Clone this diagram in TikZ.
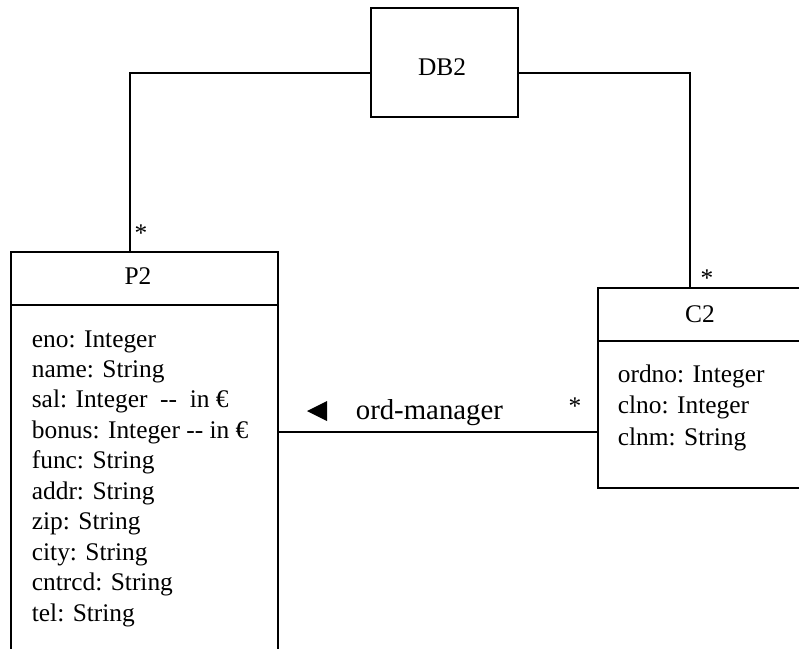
\documentclass[tikz,border=0pt]{standalone}
\usepackage{fontspec}
\setmainfont{Liberation Serif}
\begin{document}
\begin{tikzpicture}[x=1pt,y=-1pt,line width=1.7pt,
  box/.style={draw,rectangle,inner sep=0pt,anchor=north west},
  txt/.style={font=\fontsize{25.4}{30}\selectfont,inner sep=0pt,anchor=base west},
  ttl/.style={font=\fontsize{25.4}{30}\selectfont,inner sep=0pt,anchor=base},
  star/.style={font=\fontsize{25.4}{30}\selectfont,inner sep=0pt,anchor=base},
  assoc/.style={font=\fontsize{28.8}{34}\selectfont,inner sep=0pt,anchor=base west}]
\useasboundingbox (0,0) rectangle (799,648);
\clip (0,0) rectangle (799,648);
% DB2
\node[box,minimum width=147pt,minimum height=109pt] (db2) at (370,7) {};
\node[ttl] (db2t) at (442,75) {DB2};
% P2
\node[box,minimum width=267pt,minimum height=440pt] (p2) at (10,251) {};
\draw (10,305) -- (277,305);
\node[ttl] (p2t) at (138,284) {P2};
\foreach \t [count=\i from 0] in {eno: Integer,name: String,sal: Integer\ \ -{}-\ \ in €,bonus: Integer -{}- in €,func: String,addr: String,zip: String,city: String,cntrcd: String,tel: String}
  \node[txt] (pa\i) at (31,347+30.45*\i) {\t};
% C2
\node[box,minimum width=250pt,minimum height=200pt] (c2) at (597,287) {};
\draw (597,341) -- (799,341);
\node[ttl] (c2t) at (700,322) {C2};
\node[txt] (ca0) at (617,382) {ordno: Integer};
\node[txt] (ca1) at (617,413) {clno: Integer};
\node[txt] (ca2) at (617,445) {clnm: String};
% connectors
\coordinate (p2a) at ([xshift=120pt]p2.north west);
\coordinate (c2a) at ([xshift=93pt]c2.north west);
\draw ([yshift=-10.5pt]db2.west) -| (p2a);
\draw ([yshift=-10.5pt]db2.east) -| (c2a);
\coordinate (cw) at ([yshift=-44pt]c2.west);
\draw (cw) -- (p2.east |- cw);
% labels
\node[star] (s1) at (141,241) {*};
\node[star] (s2) at (707,286) {*};
\node[star] (s3) at (575,414) {*};
\fill (307,411) -- (327,401) -- (327,421) -- cycle;
\node[assoc] (om) at (355,419) {ord-manager};
\end{tikzpicture}
\end{document}
